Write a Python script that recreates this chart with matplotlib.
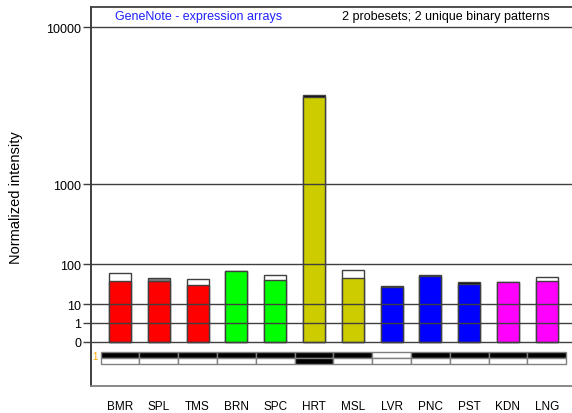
import numpy as np
import matplotlib
matplotlib.use("Agg")
import matplotlib.pyplot as plt

plt.rcParams['font.family'] = ['Liberation Sans', 'DejaVu Sans']

# Tissues and the two probeset levels (lower coloured part, total height)
tissues = ['BMR', 'SPL', 'TMS', 'BRN', 'SPC', 'HRT', 'MSL', 'LVR', 'PNC', 'PST', 'KDN', 'LNG']
lower_vals = [38, 37.5, 30.5, 67, 40.5, 3560, 44, 26, 49, 31.5, 35.5, 38]
total_vals = [58.5, 44, 41.5, 67, 53, 3690, 72, 28.7, 54, 35, 35.5, 46.5]
tissue_colors = ['#ff0000', '#ff0000', '#ff0000', '#00ff00', '#00ff00', '#cccc00',
                 '#cccc00', '#0000ff', '#0000ff', '#0000ff', '#ff00ff', '#ff00ff']
top_colors = ['white', '#808080', 'white', 'white', 'white', 'black',
              'white', 'black', 'black', 'black', 'white', 'white']

# Binary expression patterns, one row per probeset
pattern_1 = [1, 1, 1, 1, 1, 1, 1, 0, 1, 1, 1, 1]
pattern_2 = [0, 0, 0, 0, 0, 1, 0, 0, 0, 0, 0, 0]

y_ticks = [0, 1, 10, 100, 1000, 10000]

# piecewise axis: linear 0..1, then each decade gets its own length
knots_g = np.array([-12.0, -1, 0, 1, 2, 3, 4, 10])
knots_p = np.array([-209.0, 0, 19, 38, 78, 158, 315, 1257])


def forward(v):
    v = np.asarray(v, dtype=float)
    g = np.where(v < 1, v - 1, np.log10(np.maximum(v, 1)))
    return np.interp(g, knots_g, knots_p)


def inverse(p):
    p = np.asarray(p, dtype=float)
    g = np.interp(p, knots_p, knots_g)
    return np.where(g < 0, g + 1, 10 ** np.maximum(g, 0))


W, H = 572, 414
fig = plt.figure(figsize=(W / 100, H / 100), dpi=100)
ax = fig.add_axes([91 / W, (H - 387) / H, 481 / W, (387 - 8) / H])
ax.set_yscale('function', functions=(forward, inverse))

x = np.arange(len(tissues))
ax.bar(x, total_vals, width=0.57, color=top_colors, edgecolor='#404040', linewidth=1, zorder=1)
ax.bar(x, lower_vals, width=0.57, color=tissue_colors, edgecolor='#404040', linewidth=1, zorder=1)

for t in y_ticks:
    ax.axhline(t, color='#404040', linewidth=1, zorder=3)

ax.set_ylim(float(inverse(-44)), float(inverse(335)))
ax.set_xlim(-0.747, 11.65)
ax.set_yticks(y_ticks)
ax.set_yticklabels([str(t) for t in y_ticks])
ax.minorticks_off()
ax.tick_params(axis='y', length=6, width=1, color='#404040', labelsize=9, pad=1)
ax.set_xticks(x)
ax.set_xticklabels(tissues)
ax.tick_params(axis='x', length=0, labelsize=8.5, pad=10)

ax.spines['right'].set_visible(False)
ax.spines['left'].set_color('#303030')
ax.spines['left'].set_linewidth(1.3)
ax.spines['top'].set_color('#404040')
ax.spines['top'].set_linewidth(1.3)
ax.spines['bottom'].set_color('#808080')
ax.spines['bottom'].set_linewidth(1.3)

ax.set_ylabel('Normalized intensity', fontsize=10.5)
ax.yaxis.set_label_coords(-0.141, 0.5)

# binary pattern strip under the bars
pax = fig.add_axes([100.6 / W, (H - 365) / H, 465.6 / W, 12 / H])
row1_colors = ['black' if p else 'white' for p in pattern_1]
row2_colors = ['black' if p else 'white' for p in pattern_2]
pax.bar(x, 1, bottom=1, width=1, color=row1_colors, edgecolor='#808080',
        linewidth=1, clip_on=False)
pax.bar(x, 1, bottom=0, width=1, color=row2_colors, edgecolor='#808080',
        linewidth=1, clip_on=False)
pax.set_xlim(-0.5, len(tissues) - 0.5)
pax.set_ylim(0, 2)
pax.axis('off')

fig.text(95 / W, 1 - 357 / H, '1', color='#ffa500', fontsize=7, ha='center', va='center')

fig.text(199 / W, 1 - 17 / H, 'GeneNote - expression arrays', color='#2020ff',
         fontsize=9, ha='center', va='center')
fig.text(446 / W, 1 - 17 / H, '2 probesets; 2 unique binary patterns', color='black',
         fontsize=9, ha='center', va='center')

fig.savefig('out.png', dpi=100)
